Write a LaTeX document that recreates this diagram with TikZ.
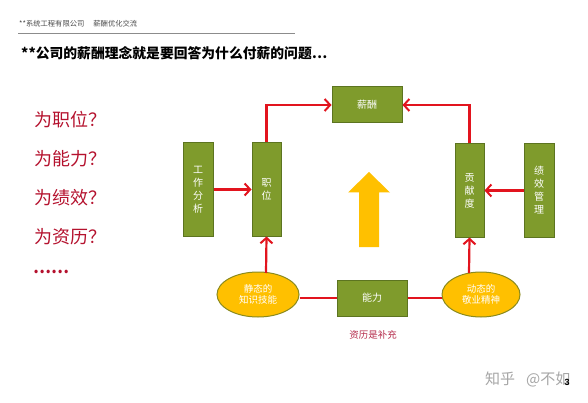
\documentclass[tikz,border=0pt]{standalone}
\usepackage{fontspec}
\setmainfont{Noto Sans CJK SC}
\newfontfamily\cjk{Noto Sans CJK SC}
\newfontfamily\latin{Liberation Sans}
\usetikzlibrary{arrows.meta,shapes.geometric}
\definecolor{boxgreen}{HTML}{7F9B2C}
\definecolor{boxedge}{HTML}{5C7420}
\definecolor{gold}{HTML}{FFC000}
\definecolor{goldedge}{HTML}{8A8A1E}
\definecolor{arrowred}{HTML}{E2141E}
\definecolor{listred}{HTML}{B5122E}
\definecolor{notered}{HTML}{B52A4A}
\tikzset{
  gbox/.style={draw=boxedge, line width=1pt, fill=boxgreen, text=white, font=\cjk\fontsize{10}{13}\selectfont, align=center, inner sep=0pt},
  gell/.style={ellipse, draw=goldedge, line width=1pt, fill=gold, text=white, font=\cjk\fontsize{9.5}{11}\selectfont, align=center, inner sep=0pt},
  redarr/.style={draw=arrowred, line width=2.2pt, -{Straight Barb[length=5.5pt,width=12pt,line width=2pt]}},
  redline/.style={draw=arrowred, line width=2.2pt},
  qtext/.style={text=listred, font=\cjk\fontsize{18}{18}\selectfont, anchor=west, inner sep=0pt},
}
\begin{document}
\begin{tikzpicture}[x=1pt,y=-1pt]
\useasboundingbox[fill=white] (0,0) rectangle (588,403);
% header
\node[anchor=west, inner sep=0pt, text=black!70, font=\cjk\fontsize{7.3}{8}\selectfont] (hdr) at (19,24) {**系统工程有限公司\hspace{9pt}薪酬优化交流};
\draw[black!45, line width=0.6pt] (18,33) -- (295,33);
\node[anchor=west, inner sep=0pt, font=\cjk\bfseries\fontsize{13.8}{14}\selectfont] (title) at (21,53) {**公司的薪酬理念就是要回答为什么付薪的问题…};
% questions
\node[qtext] (q1) at (34,120) {为职位？};
\node[qtext] (q2) at (34,159) {为能力？};
\node[qtext] (q3) at (34,198) {为绩效？};
\node[qtext] (q4) at (34,237) {为资历？};
\node[qtext, font=\cjk\bfseries\fontsize{16}{16}\selectfont] (q5) at (33,272) {……};
% boxes
\node[gbox, minimum width=30pt, minimum height=93pt] (gzfx) at (198,189.5) {工\\作\\分\\析};
\node[gbox, minimum width=29pt, minimum height=93pt] (zw) at (266.5,189.5) {职\\位};
\node[gbox, minimum width=70pt, minimum height=36pt] (xc) at (367,105) {薪酬};
\node[gbox, minimum width=29pt, minimum height=93pt] (gxd) at (469.5,190.5) {贡\\献\\度};
\node[gbox, minimum width=30pt, minimum height=93pt] (jxgl) at (539,190.5) {绩\\效\\管\\理};
\node[gbox, minimum width=70pt, minimum height=36pt] (nl) at (372,298) {能力};
\node[gell, minimum width=82pt, minimum height=45pt] (jt) at (258,294.5) {静态的\\知识技能};
\node[gell, minimum width=78pt, minimum height=45pt] (dt) at (481,294.5) {动态的\\敬业精神};
% connectors
\draw[redline] (jt.east |- nl.west) -- (nl.west);
\draw[redline] (nl.east) -- (dt.west |- nl.east);
\draw[redarr] (gzfx.east) -- (zw.west);
\draw[redarr] (jxgl.west |- gxd.east) -- (gxd.east);
\draw[redarr] (zw.north) |- (xc.west);
\draw[redarr] (gxd.north) |- (xc.east);
\coordinate (jtt) at (266,273);
\draw[redarr] (jtt) -- (zw.south);
\coordinate (dtt) at (469,273);
\draw[redarr] (dtt) -- (gxd.south);
% yellow arrow
\fill[gold] (359,247) -- (379,247) -- (379,192.5) -- (390,192.5) -- (369,172) -- (348,192.5) -- (359,192.5) -- cycle;
% note
\node[text=notered, font=\cjk\fontsize{9.5}{10}\selectfont, inner sep=0pt] (note) at (373,335) {资历是补充};
% watermark
\node[anchor=west, text=black!35, font=\cjk\fontsize{15}{16}\selectfont, inner sep=0pt] (wm) at (485,379) {知乎\hspace{11pt}@不如};
\node[font=\latin\bfseries\fontsize{9}{10}\selectfont, inner sep=0pt] (pg) at (567,382) {3};
\end{tikzpicture}
\end{document}
